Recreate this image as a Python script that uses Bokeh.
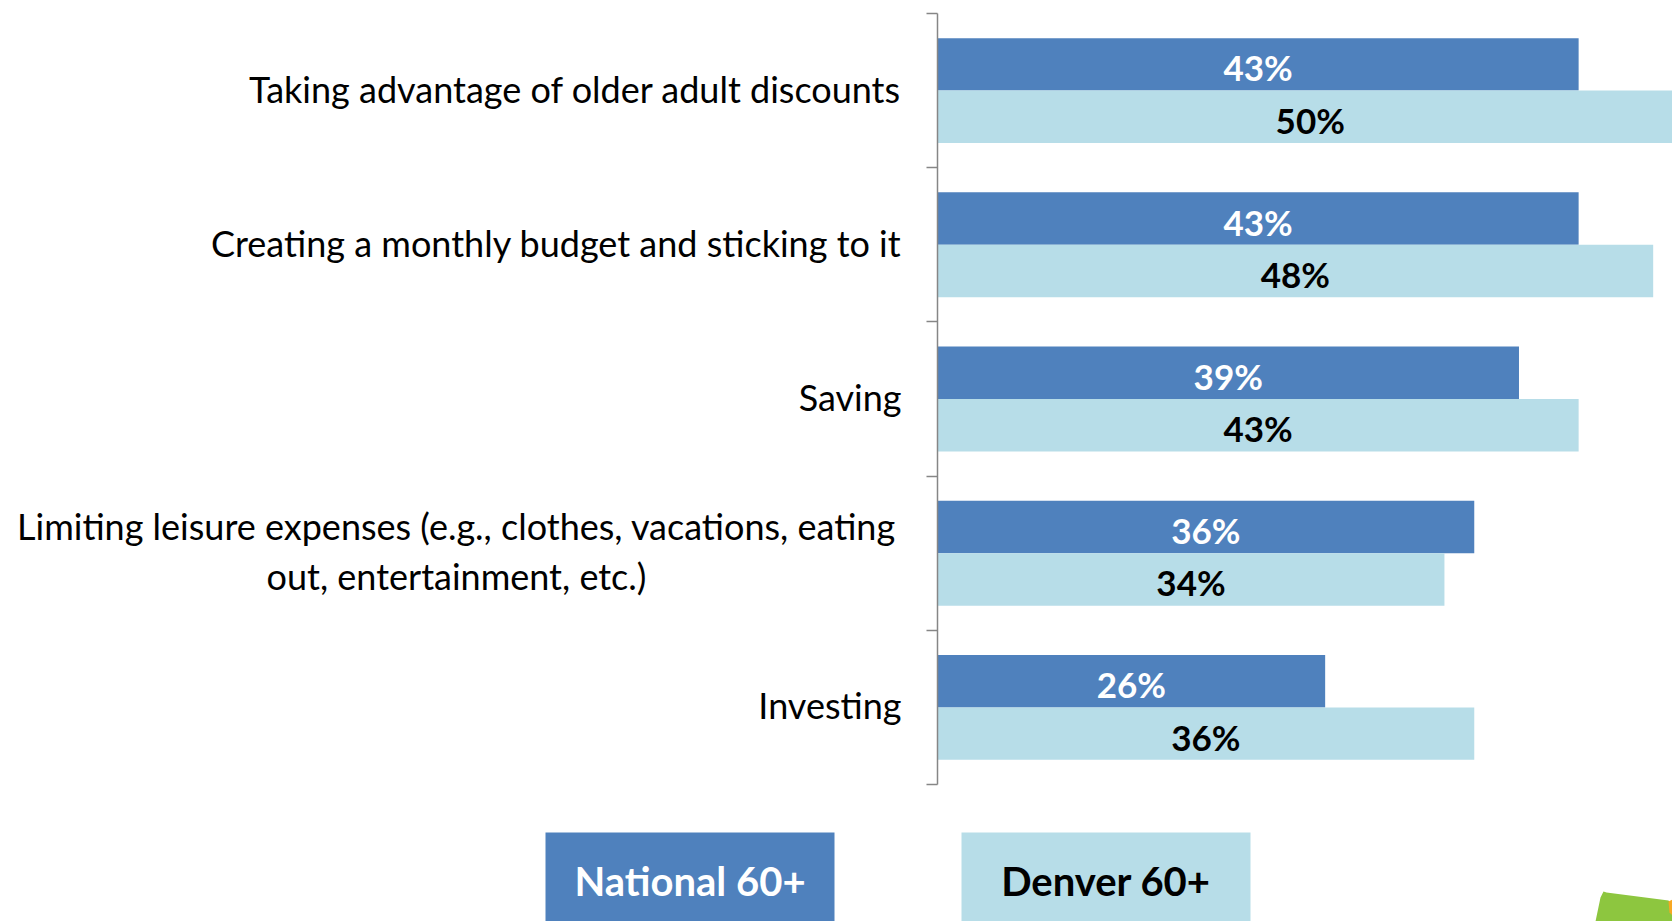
from bokeh.plotting import figure
from bokeh.models import Range1d, FixedTicker, ColumnDataSource, LinearAxis
from bokeh.embed import file_html
from bokeh.resources import INLINE
from bokeh.core.properties import value

categories = [
    "Taking advantage of older adult discounts",
    "Creating a monthly budget and sticking to it",
    "Saving",
    "Limiting leisure expenses (e.g., clothes, vacations, eating\nout, entertainment, etc.)",
    "Investing",
]
national = [43, 43, 39, 36, 26]
denver = [50, 48, 43, 34, 36]
series_names = ["National 60+", "Denver 60+"]
colors = ["#4F81BD", "#B7DDE8"]

FONT = "Lato"
W, H = 1672, 921
AX_X, PX_PER_PCT = 937, 14.91      # page position of the value axis, pixels per percent
TOP, BAND = 13, 154.2              # page position of first band, band height in pixels
n = len(categories)
centers = [i + 0.5 for i in range(n)]
bh = 0.34


def px_x(px):
    return (px - AX_X) / PX_PER_PCT


def px_y(py):
    return (py - TOP) / BAND


p = figure(width=W, height=H, output_backend="svg", toolbar_location=None,
           x_range=Range1d(px_x(0), px_x(W)), y_range=Range1d(px_y(H), px_y(0)),
           x_axis_type=None, y_axis_type=None, min_border=0)
p.outline_line_color = None
p.xgrid.visible = False
p.ygrid.visible = False

src_n = ColumnDataSource(dict(y=[c - bh / 2 for c in centers], x=national,
                              xm=[v / 2 for v in national],
                              t=[f"{v}%" for v in national]))
src_d = ColumnDataSource(dict(y=[c + bh / 2 for c in centers], x=denver,
                              xm=[v / 2 for v in denver],
                              t=[f"{v}%" for v in denver]))
p.hbar(y="y", right="x", left=0, height=bh, source=src_n, fill_color=colors[0], line_color=None)
p.hbar(y="y", right="x", left=0, height=bh, source=src_d, fill_color=colors[1], line_color=None)
p.text(x="xm", y="y", text="t", source=src_n, text_color="white", text_font=value(FONT),
       text_font_style="bold", text_font_size="35px", text_align="center",
       text_baseline="middle", y_offset=3)
p.text(x="xm", y="y", text="t", source=src_d, text_color="black", text_font=value(FONT),
       text_font_style="bold", text_font_size="35px", text_align="center",
       text_baseline="middle", y_offset=3)

# category axis line with boundary ticks
ax = LinearAxis(fixed_location=0, bounds=(0, n),
                ticker=FixedTicker(ticks=list(range(n + 1))))
ax.major_label_overrides = {i: "" for i in range(n + 1)}
ax.major_tick_out = 11
ax.major_tick_in = 0
ax.minor_tick_out = 0
ax.minor_tick_in = 0
ax.axis_line_color = "#868686"
ax.axis_line_width = 1.5
ax.major_tick_line_color = "#868686"
ax.major_tick_line_width = 1.5
p.add_layout(ax, "left")

# category labels
multi = ["\n" in c for c in categories]
lab = ColumnDataSource(dict(
    x=[0] * n, y=centers, t=categories,
    align=["center" if m else "right" for m in multi],
    xo=[456 - AX_X if m else -36 for m in multi],
))
p.text(x="x", y="y", text="t", source=lab, x_offset="xo", y_offset=-2, text_align="align",
       text_baseline="middle", text_font=value(FONT), text_font_size="36px",
       text_color="black", text_line_height=1.13)

# legend boxes below the chart
leg = ColumnDataSource(dict(x=[px_x(689.5), px_x(1105.5)], y=[px_y(892), px_y(892)],
                            ty=[px_y(880), px_y(880)], name=series_names,
                            fill=colors, tc=["white", "black"]))
p.rect(x="x", y="y", width=289, height=120, width_units="screen", height_units="screen",
       source=leg, fill_color="fill", line_color=None)
p.text(x="x", y="ty", text="name", source=leg, text_color="tc", text_font=value(FONT),
       text_font_style="bold", text_font_size="40px", text_align="center",
       text_baseline="middle")

# logo fragment in the corner
p.patch(x=[px_x(v) for v in [1595, 1600, 1603, 1606, 1668, 1672, 1672]],
        y=[px_y(v) for v in [921, 897, 891, 892, 900, 905, 921]],
        fill_color="#8DC63F", line_color=None)
p.patch(x=[px_x(v) for v in [1668, 1672, 1672, 1669]],
        y=[px_y(v) for v in [901, 899, 915, 912]],
        fill_color="#F7A823", line_color=None)

open("out.html", "w").write(file_html(p, INLINE))
